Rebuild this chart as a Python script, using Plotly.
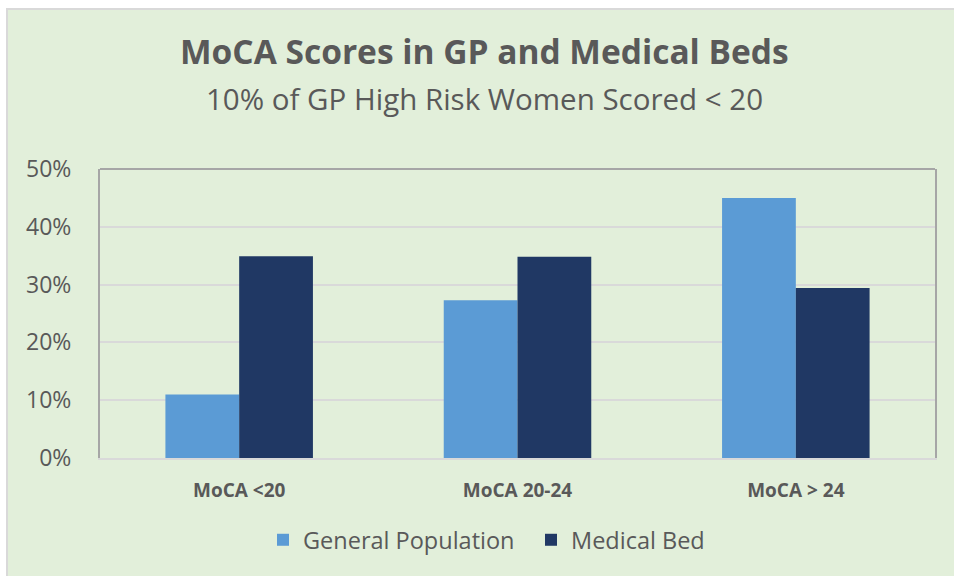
import plotly.graph_objects as go

categories = ["MoCA <20", "MoCA 20-24", "MoCA > 24"]
general_population = [0.11, 0.273, 0.45]
medical_bed = [0.349, 0.348, 0.294]
y_ticks = [0, 0.1, 0.2, 0.3, 0.4, 0.5]
y_tick_labels = ["0%", "10%", "20%", "30%", "40%", "50%"]

FONT = "Open Sans, sans-serif"
TXT = "#595959"

W, H = 954, 576
L, R, T, B = 100, 935, 169, 458
def px(x):
    return (x - L) / (R - L)
def py(y):
    return (B - y) / (B - T)

fig = go.Figure()
fig.add_trace(go.Bar(name="General Population", x=categories, y=general_population,
                     marker=dict(color="#5B9BD5", line=dict(width=0))))
fig.add_trace(go.Bar(name="Medical Bed", x=categories, y=medical_bed,
                     marker=dict(color="#203864", line=dict(width=0))))

fig.update_layout(
    width=W, height=H,
    margin=dict(l=L, r=W - R, t=T, b=H - B, pad=0),
    paper_bgcolor="#E2EFDA",
    plot_bgcolor="rgba(0,0,0,0)",
    barmode="group",
    bargap=0.47,
    bargroupgap=0,
    font=dict(family=FONT, color=TXT),
    showlegend=True,
    legend=dict(orientation="h", x=px(263), xanchor="left", y=py(540), yanchor="middle",
                font=dict(size=23.5, color=TXT, family=FONT), bgcolor="rgba(0,0,0,0)",
                itemwidth=30, traceorder="normal", entrywidth=223, entrywidthmode="pixels"),
    shapes=[
        dict(type="rect", xref="paper", yref="paper", layer="below",
             x0=px(-5), x1=px(1000), y0=py(-5), y1=py(8),
             fillcolor="white", line=dict(width=0)),
        dict(type="rect", xref="paper", yref="paper", layer="below",
             x0=px(-5), x1=px(6), y0=py(-5), y1=py(600),
             fillcolor="white", line=dict(width=0)),
        dict(type="line", xref="paper", yref="paper", layer="below",
             x0=px(6), x1=px(1000), y0=py(9), y1=py(9),
             line=dict(color="#D9D9D9", width=2)),
        dict(type="line", xref="paper", yref="paper", layer="below",
             x0=px(7), x1=px(7), y0=py(8), y1=py(600),
             line=dict(color="#D9D9D9", width=2)),
        dict(type="line", xref="paper", yref="paper", layer="above",
             x0=0, x1=1, y0=1, y1=1, line=dict(color="#A6A6A6", width=2)),
    ],
    annotations=[
        dict(text="<b>MoCA Scores in GP and Medical Beds</b>", xref="paper", yref="paper",
             x=px(484), y=py(51), xanchor="center", yanchor="middle", showarrow=False,
             font=dict(size=33.5, color=TXT, family=FONT)),
        dict(text="10% of GP High Risk Women Scored < 20", xref="paper", yref="paper",
             x=px(484), y=py(98), xanchor="center", yanchor="middle", showarrow=False,
             font=dict(size=29.5, color=TXT, family=FONT)),
    ],
)

fig.update_yaxes(range=[0, 0.5], tickvals=y_ticks, ticktext=y_tick_labels,
                 showgrid=True, gridcolor="#D9D9D9", gridwidth=2,
                 showline=True, linecolor="#A6A6A6", linewidth=2, mirror=True,
                 zeroline=False, ticks="", ticklabelstandoff=22,
                 tickfont=dict(size=23, color=TXT, family=FONT))
fig.update_xaxes(showline=True, linecolor="#D9D9D9", linewidth=2, ticks="",
                 ticklabelstandoff=14,
                 tickfont=dict(size=19, color=TXT, family=FONT),
                 tickprefix="<b>", ticksuffix="</b>")

fig.write_html("out.html", config={"displayModeBar": False},
               post_script="document.body.style.margin='0';document.body.style.overflow='hidden';")
